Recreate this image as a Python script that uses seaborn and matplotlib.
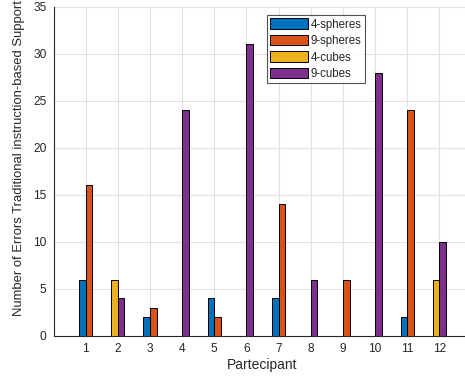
import numpy as np
import pandas as pd
import matplotlib
matplotlib.use("Agg")
import matplotlib.pyplot as plt
import seaborn as sns

# ---- data ----
participants = [1, 2, 3, 4, 5, 6, 7, 8, 9, 10, 11, 12]
shapes = ["spheres", "cubes", "spheres", "cubes", "spheres", "cubes",
          "spheres", "cubes", "spheres", "cubes", "spheres", "cubes"]
errors_4 = [6, 6, 2, 0, 4, 0, 4, 0, 0, 0, 2, 6]
errors_9 = [16, 4, 3, 24, 2, 31, 14, 6, 6, 28, 24, 10]
series_order = ["4-spheres", "9-spheres", "4-cubes", "9-cubes"]
series_colors = ["#0072BD", "#D95319", "#EDB120", "#7E2F8E"]
y_ticks = [0, 5, 10, 15, 20, 25, 30, 35]

bar_offset = 0.104

rows = []
for p, s, e4, e9 in zip(participants, shapes, errors_4, errors_9):
    rows.append({"pos": p - bar_offset, "errors": e4, "series": f"4-{s}"})
    rows.append({"pos": p + bar_offset, "errors": e9, "series": f"9-{s}"})
df = pd.DataFrame(rows)

sns.set_style("white")
plt.rcParams["font.family"] = ["Liberation Sans", "DejaVu Sans"]

fig = plt.figure(figsize=(4.65, 3.81), dpi=100)
W, H = 465, 381
ax_l, ax_r, ax_t, ax_b = 53.5, 471.5, 6.7, 336.0
ax = fig.add_axes([ax_l / W, 1 - ax_b / H, (ax_r - ax_l) / W, (ax_b - ax_t) / H])

sns.barplot(data=df, x="pos", y="errors", hue="series", hue_order=series_order,
            palette=series_colors, native_scale=True, dodge=False, width=1.0,
            errorbar=None, edgecolor="black", linewidth=0.7, saturation=1,
            ax=ax, zorder=3)

ax.set_xlim(0, 13)
ax.set_ylim(0, 35)
ax.set_xticks(participants)
ax.set_xticklabels([str(p) for p in participants])
ax.set_yticks(y_ticks)
ax.set_yticklabels([str(t) for t in y_ticks])
ax.grid(True, color="#e2e2e2", linewidth=0.8, zorder=0)
ax.set_axisbelow(True)
for sp in ["top", "right"]:
    ax.spines[sp].set_visible(False)
for sp in ["left", "bottom"]:
    ax.spines[sp].set_color("#262626")
    ax.spines[sp].set_linewidth(0.8)
ax.tick_params(direction="in", length=3, width=0.6, colors="#262626",
               labelsize=8.6, pad=5)

ax.set_xlabel("Partecipant", fontsize=10, color="#262626", labelpad=2)
ax.set_ylabel("Number of Errors Traditional instruction-based Support",
              fontsize=9.4, color="#262626")
ax.yaxis.set_label_coords(-0.083, 0.54)
ax.yaxis.label.set_verticalalignment("center")

leg = ax.legend(loc="upper left", bbox_to_anchor=(266.7 / W, 1 - 15 / H),
                bbox_transform=fig.transFigure, borderaxespad=0,
                fontsize=8.3, handlelength=3.3, handleheight=1.0,
                handletextpad=0.2, labelspacing=0.38, borderpad=0.3,
                fancybox=False, frameon=True, title=None)
leg.get_frame().set_edgecolor("#262626")
leg.get_frame().set_linewidth(0.8)
for h in leg.legend_handles:
    h.set_edgecolor("black")
    h.set_linewidth(0.7)

fig.savefig("out.png", dpi=100)
